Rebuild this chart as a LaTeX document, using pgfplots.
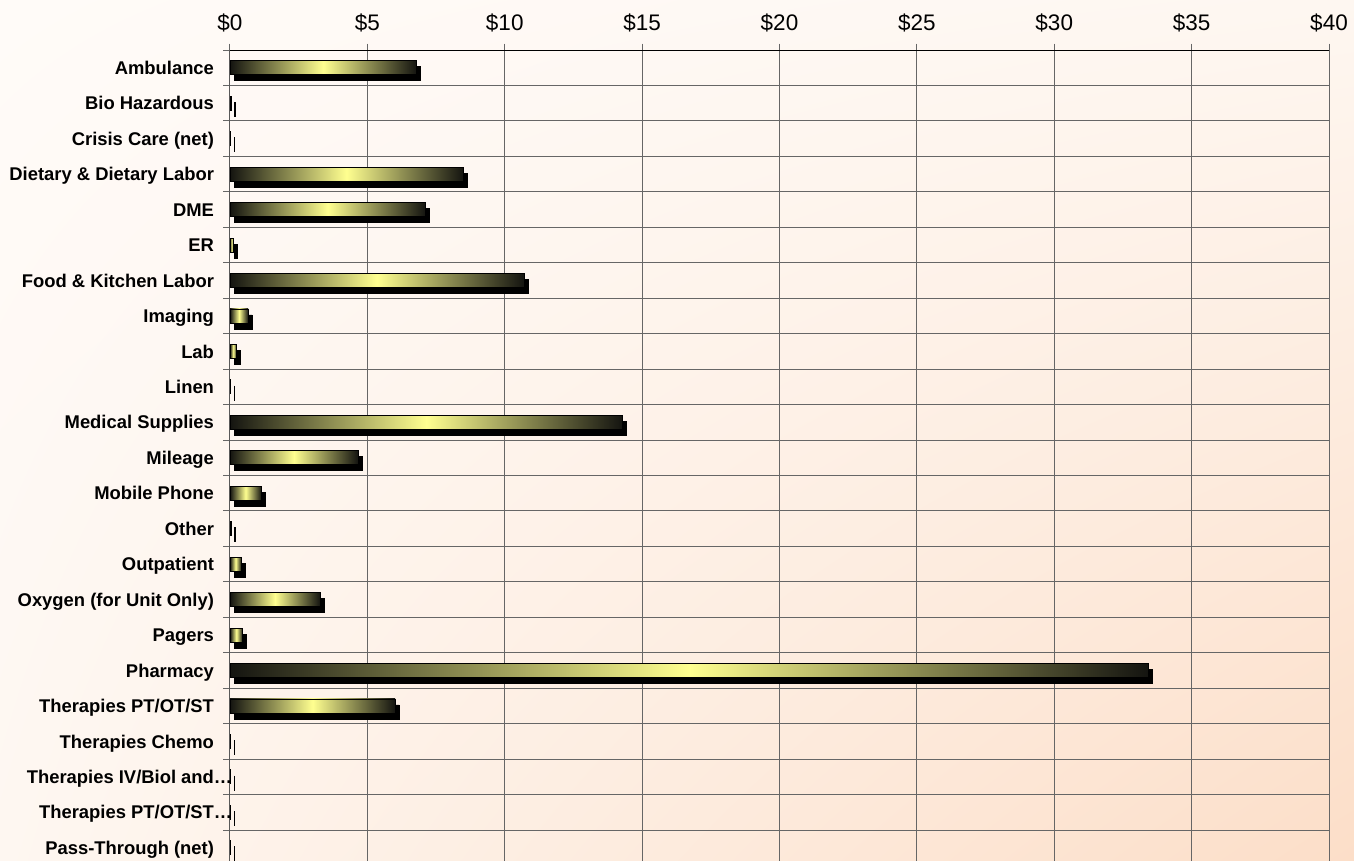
\documentclass[border=0pt]{standalone}
\usepackage{pgfplots}
\usepackage{pgfplotstable}
\pgfplotsset{compat=1.18}
\usetikzlibrary{shadings}
\usepackage{fontspec}
\setmainfont{Liberation Sans}
\definecolor{bgA}{HTML}{FFFBF8}
\definecolor{bgB}{HTML}{FEF7F1}
\definecolor{bgC}{HTML}{FCDEC8}
\definecolor{gridc}{HTML}{666666}
\definecolor{barDark}{HTML}{141410}
\definecolor{barYel}{HTML}{FFFF90}
\pgfplotstableread{
y v
0 6.79
1 0.05
2 0.01
3 8.49
4 7.12
5 0.12
6 10.70
7 0.66
8 0.24
9 0.01
10 14.29
11 4.66
12 1.14
13 0.04
14 0.41
15 3.28
16 0.46
17 33.42
18 6.01
19 0.01
20 0.01
21 0.01
22 0.01
}\costdata
\pgfplotsset{
  common/.style={
    at={(0pt,0pt)}, anchor=south west,
    scale only axis, width=1099pt, height=815.5pt,
    xmin=0, xmax=40, ymin=-0.5, ymax=22.5,
    y dir=reverse,
  }
}
\begin{document}
\begin{tikzpicture}
\shade[upper left=bgA, upper right=bgB, lower left=bgB, lower right=bgC] (-230pt,4.5pt) rectangle (1124pt,865.5pt);
% grid and labels
\begin{axis}[common,
  axis line style={gridc, line width=1pt},
  tick align=outside,
  major tick length=6.5pt,
  tick style={gridc, line width=1pt},
  xtick={0,5,...,40},
  xticklabels={\$0,\$5,\$10,\$15,\$20,\$25,\$30,\$35,\$40},
  xtick pos=right, xticklabel pos=right,
  ytick={-0.5,0.5,...,22.5},
  yticklabels={Ambulance,Bio Hazardous,Crisis Care (net),Dietary \& Dietary Labor,DME,ER,Food \& Kitchen Labor,Imaging,Lab,Linen,Medical Supplies,Mileage,Mobile Phone,Other,Outpatient,Oxygen (for Unit Only),Pagers,Pharmacy,Therapies PT/OT/ST,Therapies Chemo,Therapies IV/Biol and\rlap{…},Therapies PT/OT/ST\rlap{…},Pass-Through (net),{}},
  ytick pos=left, yticklabel pos=left,
  xmajorgrids, ymajorgrids,
  grid style={gridc, line width=1pt},
  xticklabel style={font=\fontsize{22.5}{26}\selectfont, text=black, yshift=8pt},
  yticklabel style={font=\bfseries\fontsize{18.4}{21}\selectfont, text=black, anchor=base east, yshift=-24.4pt, xshift=-6pt},
]
\draw[black, line width=1pt] (axis cs:0,22.5) -- (axis cs:0,-0.5) -- (axis cs:40,-0.5);
\end{axis}
% shadows
\begin{axis}[common, at={(4pt,-6pt)}, hide axis]
\addplot[xbar, bar width=14pt, fill=black, draw=black, line width=0.6pt] table[x=v, y=y] {\costdata};
\end{axis}
% front bars, one plot per bar so that each bar has its own shading
\begin{axis}[common, hide axis]
\pgfplotsinvokeforeach{0,...,22}{
\addplot[xbar, bar width=14pt, draw=black, line width=0.8pt, left color=barDark, right color=barDark, middle color=barYel, x filter/.expression={\coordindex==#1 ? x : nan}] table[x=v, y=y] {\costdata};
}
\end{axis}
\pgfresetboundingbox
\path[use as bounding box] (-230pt,4.5pt) rectangle (1124pt,865.5pt);
\end{tikzpicture}
\end{document}
